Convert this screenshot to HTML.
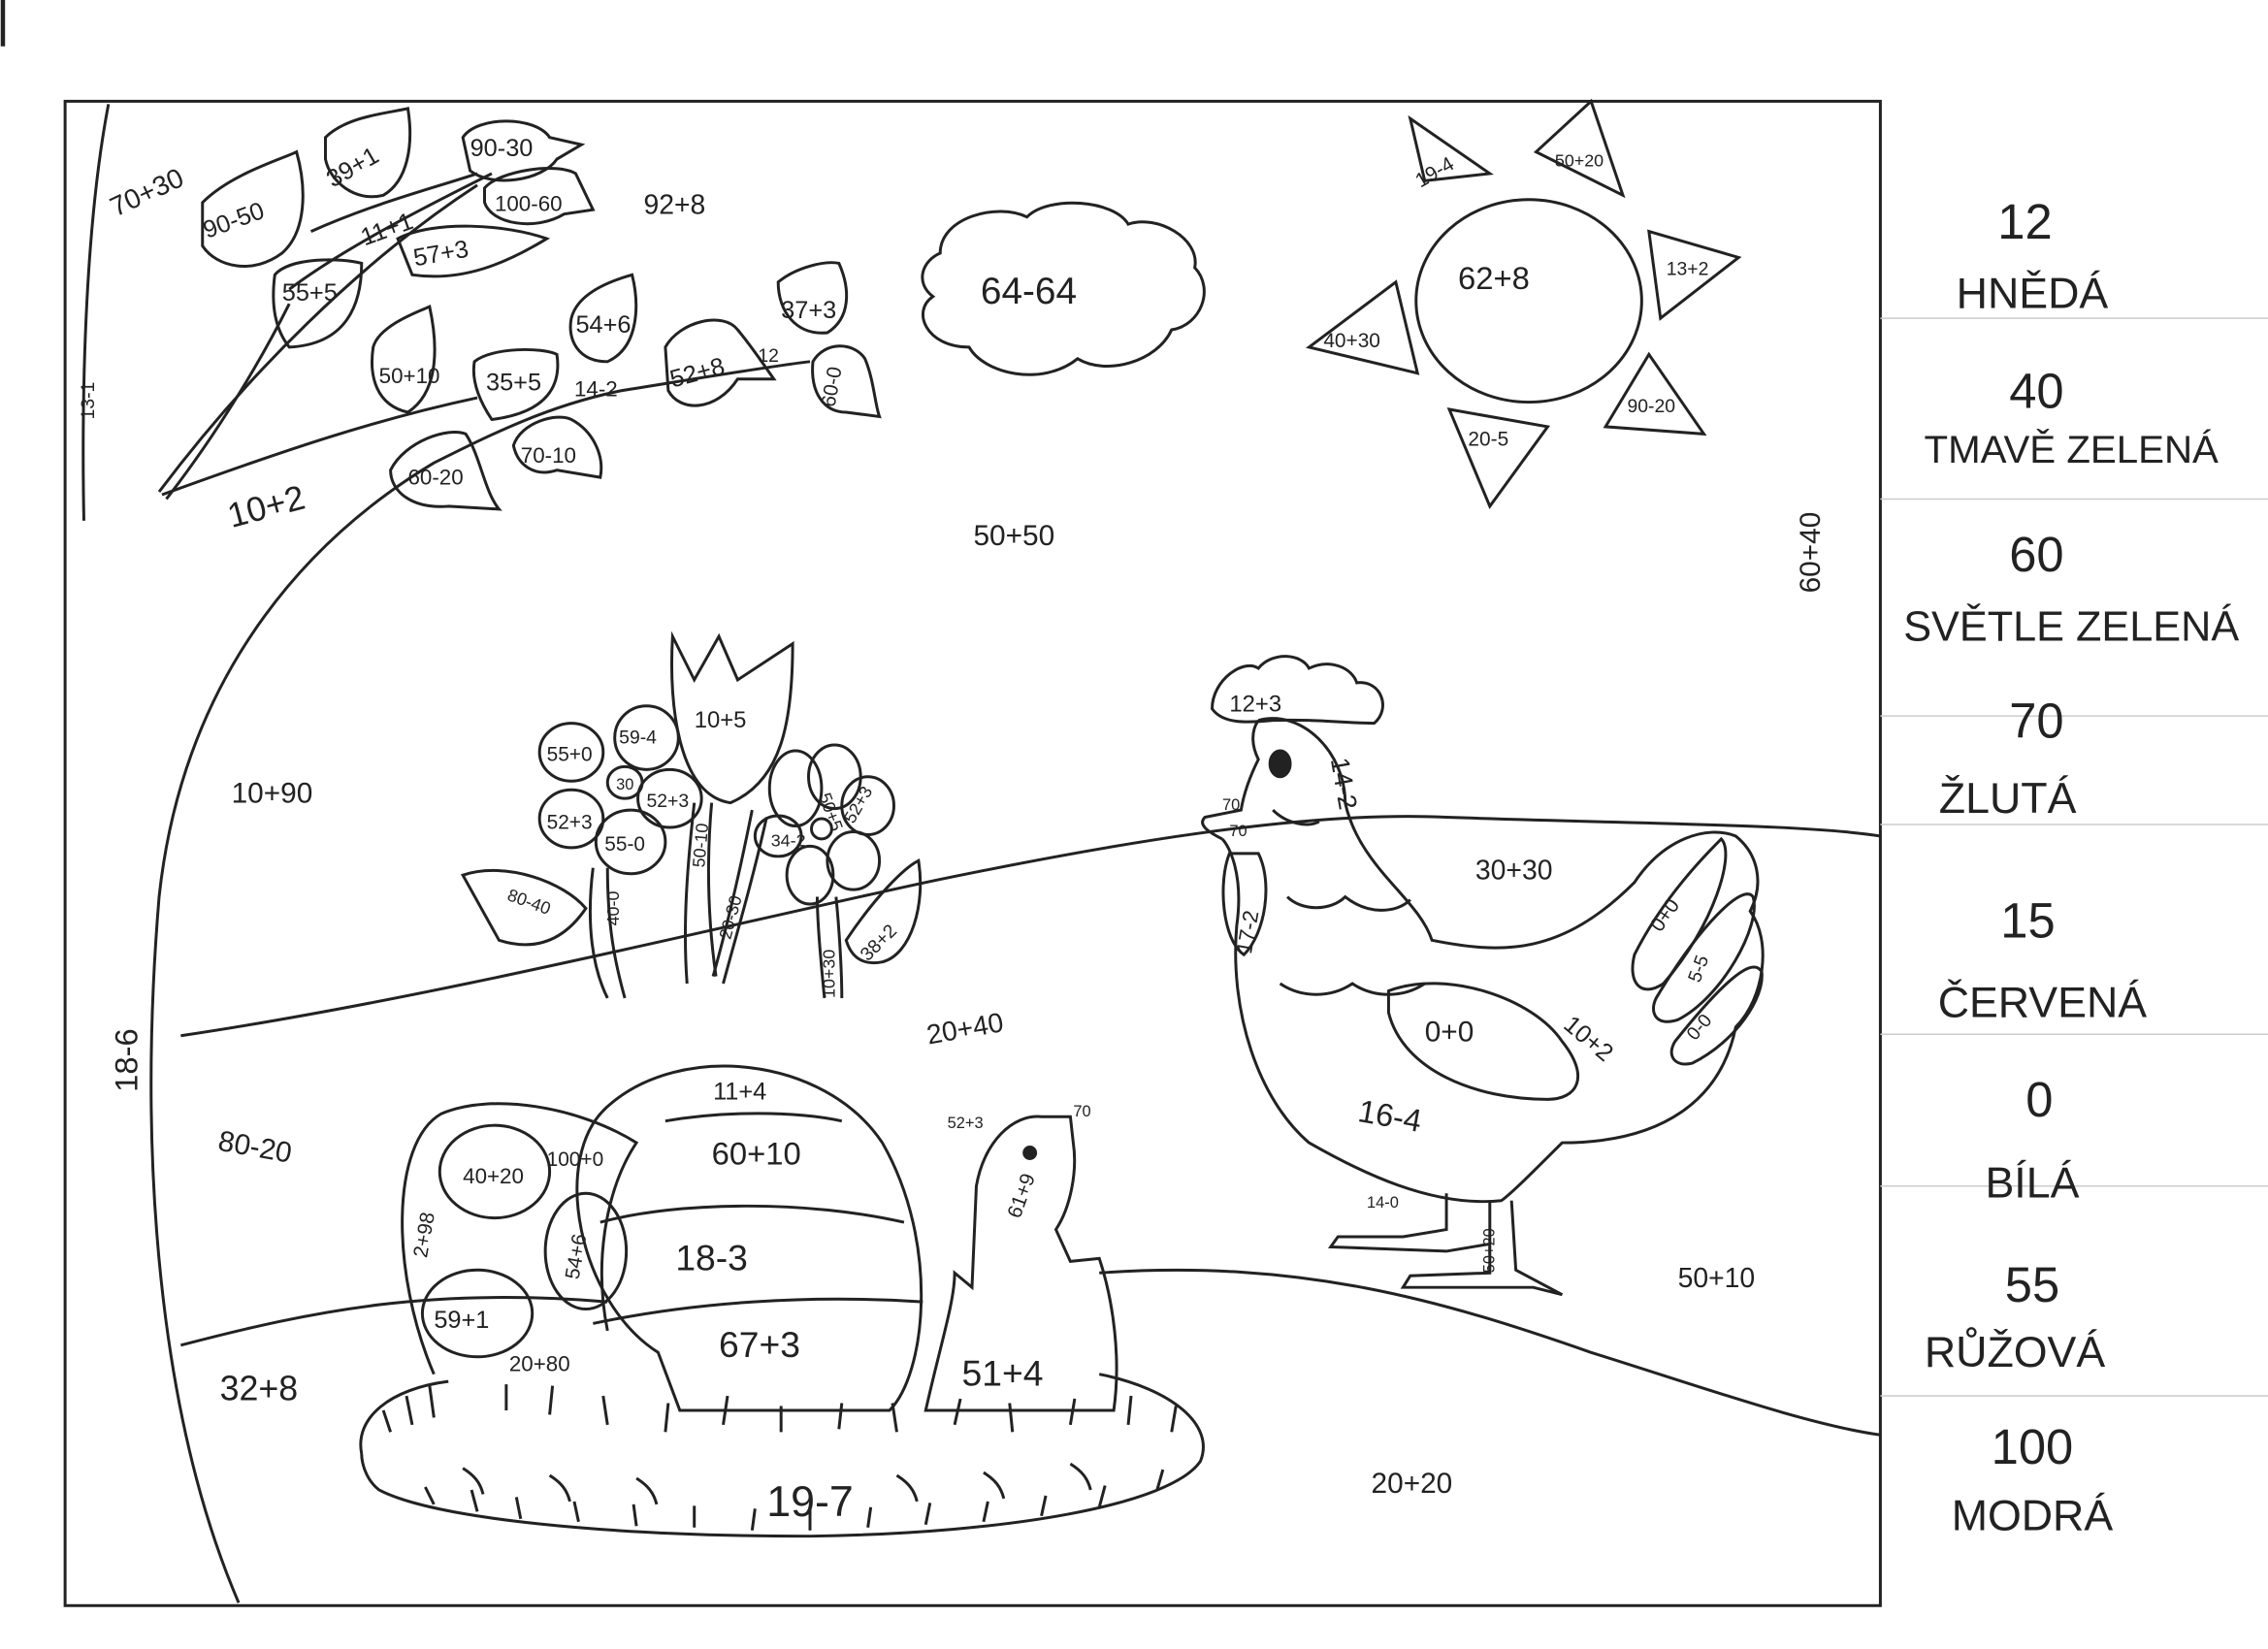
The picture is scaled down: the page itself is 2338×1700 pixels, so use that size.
<!DOCTYPE html>
<html><head><meta charset="utf-8"><style>
html,body{margin:0;padding:0;background:#fff;}
svg{display:block;}
text{font-family:"Liberation Sans",sans-serif;fill:#222;}
</style></head><body>
<svg width="2338" height="1700" viewBox="0 0 1568 1140" preserveAspectRatio="none" xmlns="http://www.w3.org/2000/svg">
<rect width="1568" height="1140" fill="#fff"/>
<line x1="2" y1="0" x2="2" y2="32" stroke="#222" stroke-width="3"/>
<g fill="none" stroke="#222" stroke-width="2">
<rect x="45" y="70" width="1255" height="1040"/>
<!-- ground -->
<path d="M125,716 C300,690 500,640 640,610 C760,585 900,560 1000,565 C1150,570 1250,570 1300,578"/>
<path d="M125,930 C220,905 300,890 420,900 M760,880 C900,870 1000,900 1100,935 C1180,960 1250,985 1300,992"/>
<!-- tree -->
<path d="M165,1108 C110,980 95,800 110,620 C125,480 200,380 300,320 C340,300 380,280 430,270 C480,262 540,252 560,250"/>
<path d="M75,72 C60,150 56,260 58,360"/>
<path d="M110,340 C170,260 250,180 330,128"/>
<path d="M115,345 C150,300 180,250 200,210"/>
<path d="M112,342 C200,310 260,290 330,275"/>
<path d="M200,200 C240,170 300,140 340,120"/>
<path d="M215,160 C260,140 300,130 330,120"/>
<!-- leaves -->
<path d="M140,140 C160,120 195,110 205,105 C212,130 212,160 195,175 C175,190 150,185 140,170 Z"/>
<path d="M225,95 C240,80 270,78 282,75 C286,100 282,125 265,135 C245,140 228,125 225,110 Z"/>
<path d="M320,95 C330,80 370,80 380,95 L402,100 L385,110 C375,125 340,130 325,118 Z"/>
<path d="M335,130 C345,118 385,112 398,120 L410,145 L390,148 C370,160 340,155 335,140 Z"/>
<path d="M275,165 C300,152 350,155 378,165 C350,182 320,195 285,190 Z"/>
<path d="M190,190 C200,178 235,178 250,182 C250,210 240,238 200,240 C188,225 188,205 190,190 Z"/>
<path d="M258,240 C262,225 290,215 297,212 C302,235 305,270 282,285 C260,280 255,260 258,240 Z"/>
<path d="M328,250 C340,240 375,240 385,245 C388,265 380,285 340,290 C330,275 326,262 328,250 Z"/>
<path d="M395,220 C400,200 430,192 437,190 C442,210 442,240 420,250 C400,250 392,235 395,220 Z"/>
<path d="M460,240 C470,222 500,215 510,228 C520,240 530,255 535,262 L510,262 C495,285 470,285 462,270 Z"/>
<path d="M355,308 C360,292 385,285 395,290 C410,298 418,315 415,330 L385,325 C370,330 358,322 355,308 Z"/>
<path d="M270,325 C280,305 310,295 322,300 C332,315 335,340 345,352 L310,350 C285,352 270,340 270,325 Z"/>
<path d="M538,195 C550,185 570,180 580,182 C588,200 588,220 572,230 C550,232 538,215 538,195 Z"/>
<path d="M562,250 C570,236 590,236 598,248 C604,262 605,280 608,288 L585,285 C570,285 560,272 562,250 Z"/>
<!-- cloud -->
<path d="M650,175 C650,150 690,140 710,150 C725,135 770,138 780,155 C800,148 830,165 826,185 C840,200 830,225 810,228 C800,250 765,260 745,248 C720,268 680,258 670,240 C640,240 630,215 645,205 C632,195 638,180 650,175 Z"/>
<!-- sun -->
<ellipse cx="1057" cy="208" rx="78" ry="70"/>
<path d="M975,82 L1030,120 L985,125 Z"/>
<path d="M1062,105 L1100,70 L1122,135 Z"/>
<path d="M1140,160 L1202,178 L1148,220 Z"/>
<path d="M1110,295 L1140,245 L1178,300 Z"/>
<path d="M1002,283 L1070,295 L1030,350 Z"/>
<path d="M905,240 L965,195 L980,258 Z"/>
<!-- flowers -->
<ellipse cx="395" cy="520" rx="22" ry="20"/><ellipse cx="447" cy="510" rx="22" ry="22"/>
<ellipse cx="432" cy="541" rx="12" ry="11"/><ellipse cx="463" cy="552" rx="22" ry="20"/>
<ellipse cx="395" cy="566" rx="22" ry="20"/><ellipse cx="436" cy="582" rx="24" ry="22"/>
<path d="M465,440 L480,470 L497,440 L510,470 L548,445 C548,500 540,540 505,555 C470,550 462,490 465,440 Z"/>
<ellipse cx="550" cy="545" rx="18" ry="26"/><ellipse cx="577" cy="537" rx="18" ry="22"/>
<ellipse cx="600" cy="557" rx="18" ry="20"/><ellipse cx="590" cy="595" rx="18" ry="20"/>
<ellipse cx="560" cy="605" rx="16" ry="20"/><ellipse cx="538" cy="578" rx="16" ry="14"/>
<circle cx="568" cy="573" r="7"/>
<path d="M410,600 C405,640 410,670 420,690 M420,600 C420,640 425,665 432,690"/>
<path d="M480,555 C475,600 472,640 475,680 M492,555 C488,600 490,640 495,675"/>
<path d="M520,560 C510,610 500,650 493,675 M530,565 C520,610 508,650 500,680"/>
<path d="M565,620 C565,640 568,670 570,690 M578,620 C580,640 582,670 582,690"/>
<path d="M320,605 C350,595 390,610 405,628 C390,650 370,658 345,650 Z"/>
<path d="M585,650 C605,620 625,600 635,595 C640,625 630,660 610,665 C595,668 588,660 585,650 Z"/>
<!-- hen -->
<path d="M838,490 C838,470 860,455 870,462 C880,450 900,452 905,462 C920,455 935,462 938,472 C955,470 962,490 950,500 C930,500 910,497 880,498 C860,500 845,500 838,490 Z"/>
<path d="M870,498 C900,490 930,520 930,555 C940,600 980,620 990,650 C1040,660 1080,660 1130,610 C1150,580 1180,570 1200,578 C1215,590 1220,610 1210,630 C1225,650 1220,690 1200,710 C1190,760 1150,790 1080,790 C1060,810 1045,825 1038,830 C990,835 940,810 905,790 C870,760 850,700 855,640 C860,605 850,585 845,580"/>
<path d="M845,580 C835,575 828,570 833,565 L858,560 C860,548 865,535 870,525 C865,515 865,505 870,498"/>
<path d="M850,590 C842,610 845,650 860,660 C875,645 880,610 870,590 Z"/>
<path d="M960,685 C1000,670 1060,690 1080,720 C1100,745 1090,760 1070,760 C1020,760 970,740 960,700 Z"/>
<path d="M1130,660 C1150,620 1180,590 1190,580 C1200,590 1185,640 1150,680 C1135,690 1125,680 1130,660 Z"/>
<path d="M1145,690 C1175,640 1205,610 1212,620 C1218,640 1190,690 1160,705 C1145,710 1140,700 1145,690 Z"/>
<path d="M1158,720 C1190,680 1212,660 1218,672 C1220,690 1200,720 1170,735 C1158,738 1152,730 1158,720 Z"/>
<path d="M890,620 C900,630 920,630 930,620 C945,632 965,632 975,622 M885,680 C900,690 920,690 935,680 C950,690 970,690 985,680"/>
<path d="M1000,825 L1000,850 L970,855 L925,855 L920,862 L1000,865 L1030,860 L1030,830 M1030,830 L1030,880 L975,882 L970,890 L1060,890 L1080,895 L1048,878 L1045,830"/>
<ellipse cx="885" cy="528" rx="7" ry="9" fill="#222"/>
<path d="M880,560 C890,570 905,572 912,568"/>
<!-- eggs -->
<path d="M455,935 C400,900 380,800 420,765 C470,720 570,730 610,790 C650,860 640,950 615,975 L470,975 Z"/>
<path d="M460,775 C500,768 550,768 582,775 M415,845 C470,830 560,830 625,845 M410,915 C480,900 560,895 638,900"/>
<path d="M300,950 C270,880 270,790 305,770 C340,755 400,765 440,790 C420,820 410,870 420,920"/>
<ellipse cx="342" cy="810" rx="38" ry="32"/>
<ellipse cx="405" cy="865" rx="28" ry="40"/>
<ellipse cx="330" cy="908" rx="38" ry="30"/>
<!-- chick -->
<path d="M675,820 C680,790 700,770 720,772 L740,772 L742,790 C745,810 740,835 730,850 L740,872 L760,870 C770,900 775,940 770,975 L640,975 C650,930 660,900 660,880 L672,890 Z"/>
<circle cx="712" cy="797" r="4" fill="#222"/>
<!-- nest -->
<path d="M250,1005 C245,980 270,960 310,955 M760,950 C810,960 840,985 830,1010 C810,1040 700,1060 560,1062 C420,1062 300,1050 262,1030 C252,1022 250,1010 250,1005"/>
<path d="M270,990 l-5,-15 M285,985 l-4,-20 M300,980 l-3,-22 M350,975 l0,-18 M380,978 l2,-20 M420,985 l-3,-20 M460,990 l2,-20 M500,985 l3,-20 M540,990 l0,-18 M580,988 l2,-18 M620,990 l-3,-20 M660,985 l4,-18 M700,990 l-2,-20 M740,985 l3,-18 M780,985 l2,-20 M810,990 l3,-18"/>
<path d="M300,1040 l-6,-12 M330,1045 l-4,-15 M360,1050 l-3,-15 M400,1052 l-3,-14 M440,1055 l-2,-15 M480,1056 l0,-15 M520,1058 l2,-15 M560,1058 l0,-15 M600,1056 l2,-14 M640,1054 l3,-15 M680,1052 l3,-14 M720,1048 l3,-14 M760,1042 l4,-15 M800,1030 l4,-14"/>
<path d="M320,1015 c8,5 12,10 14,18 M380,1020 c8,5 12,10 14,18 M440,1022 c8,5 12,10 14,18 M620,1020 c8,5 12,10 14,18 M680,1018 c8,5 12,10 14,18 M740,1012 c8,5 12,10 14,18"/>
<!-- legend separators -->
<g stroke="#ccc" stroke-width="1"><path d="M1300,220 H1568 M1300,345 H1568 M1300,495 H1568 M1300,570 H1568 M1300,715 H1568 M1300,820 H1568 M1300,965 H1568"/></g>
</g>
<g font-size="17">
<text x="80" y="150" transform="rotate(-25 80 150)" font-size="19">70+30</text>
<text x="143" y="165" transform="rotate(-20 143 165)">90-50</text>
<text x="230" y="130" transform="rotate(-30 230 130)">39+1</text>
<text x="325" y="108">90-30</text>
<text x="342" y="146" font-size="15">100-60</text>
<text x="252" y="170" transform="rotate(-20 252 170)">11+1</text>
<text x="287" y="184" transform="rotate(-10 287 184)">57+3</text>
<text x="195" y="208">55+5</text>
<text x="445" y="148" font-size="19">92+8</text>
<text x="262" y="265" font-size="15">50+10</text>
<text x="336" y="270">35+5</text>
<text x="398" y="230">54+6</text>
<text x="397" y="274" font-size="15">14-2</text>
<text x="465" y="268" transform="rotate(-15 465 268)">52+8</text>
<text x="524" y="250" font-size="13">12</text>
<text x="540" y="220">37+3</text>
<text x="577" y="282" transform="rotate(-80 577 282)" font-size="14">60-0</text>
<text x="360" y="320" font-size="15">70-10</text>
<text x="282" y="335" font-size="15">60-20</text>
<text x="65" y="290" transform="rotate(-90 65 290)" font-size="13">13-1</text>
<text x="160" y="365" transform="rotate(-15 160 365)" font-size="24">10+2</text>
<text x="678" y="210" font-size="26">64-64</text>
<text x="1008" y="200" font-size="22">62+8</text>
<text x="982" y="130" transform="rotate(-30 982 130)" font-size="14">19-4</text>
<text x="1075" y="115" font-size="12">50+20</text>
<text x="1152" y="190" font-size="13">13+2</text>
<text x="915" y="240" font-size="14">40+30</text>
<text x="1125" y="285" font-size="13">90-20</text>
<text x="1015" y="308" font-size="14">20-5</text>
<text x="673" y="377" font-size="20">50+50</text>
<text x="1258" y="410" transform="rotate(-90 1258 410)" font-size="20">60+40</text>
<text x="160" y="555" font-size="20">10+90</text>
<text x="378" y="526" font-size="14">55+0</text>
<text x="428" y="514" font-size="13">59-4</text>
<text x="426" y="546" font-size="11">30</text>
<text x="447" y="558" font-size="13">52+3</text>
<text x="378" y="573" font-size="14">52+3</text>
<text x="418" y="588" font-size="14">55-0</text>
<text x="480" y="503" font-size="16">10+5</text>
<text x="350" y="622" transform="rotate(20 350 622)" font-size="12">80-40</text>
<text x="428" y="640" transform="rotate(-90 428 640)" font-size="12">40-0</text>
<text x="487" y="600" transform="rotate(-85 487 600)" font-size="12">50-10</text>
<text x="505" y="650" transform="rotate(-75 505 650)" font-size="12">20-30</text>
<text x="577" y="690" transform="rotate(-90 577 690)" font-size="12">10+30</text>
<text x="533" y="585" font-size="12">34-2</text>
<text x="600" y="665" transform="rotate(-45 600 665)" font-size="13">38+2</text>
<text x="566" y="550" transform="rotate(70 566 550)" font-size="12">50+5</text>
<text x="590" y="570" transform="rotate(-60 590 570)" font-size="12">52+3</text>
<text x="642" y="722" transform="rotate(-10 642 722)" font-size="19">20+40</text>
<text x="850" y="492" font-size="16">12+3</text>
<text x="920" y="525" transform="rotate(80 920 525)" font-size="18">14-2</text>
<text x="845" y="560" font-size="11">70</text>
<text x="850" y="578" font-size="11">70</text>
<text x="865" y="660" transform="rotate(-80 865 660)" font-size="15">17-2</text>
<text x="1020" y="608" font-size="19">30+30</text>
<text x="985" y="720" font-size="20">0+0</text>
<text x="1080" y="710" transform="rotate(40 1080 710)" font-size="17">10+2</text>
<text x="1148" y="645" transform="rotate(-55 1148 645)" font-size="14">0+0</text>
<text x="1175" y="680" transform="rotate(-70 1175 680)" font-size="13">5-5</text>
<text x="1172" y="720" transform="rotate(-50 1172 720)" font-size="13">0-0</text>
<text x="938" y="775" transform="rotate(10 938 775)" font-size="22">16-4</text>
<text x="945" y="835" font-size="11">14-0</text>
<text x="1033" y="880" transform="rotate(-90 1033 880)" font-size="11">50+20</text>
<text x="1160" y="890" font-size="19">50+10</text>
<text x="150" y="795" transform="rotate(10 150 795)" font-size="20">80-20</text>
<text x="95" y="755" transform="rotate(-90 95 755)" font-size="22">18-6</text>
<text x="152" y="968" font-size="24">32+8</text>
<text x="320" y="818" font-size="15">40+20</text>
<text x="378" y="806" font-size="14">100+0</text>
<text x="295" y="870" transform="rotate(-80 295 870)" font-size="14">2+98</text>
<text x="300" y="918" font-size="17">59+1</text>
<text x="400" y="885" transform="rotate(-80 400 885)" font-size="14">54+6</text>
<text x="352" y="948" font-size="15">20+80</text>
<text x="493" y="760" font-size="17">11+4</text>
<text x="492" y="805" font-size="22">60+10</text>
<text x="467" y="878" font-size="25">18-3</text>
<text x="497" y="938" font-size="25">67+3</text>
<text x="655" y="780" font-size="11">52+3</text>
<text x="742" y="772" font-size="11">70</text>
<text x="705" y="843" transform="rotate(-70 705 843)" font-size="14">61+9</text>
<text x="665" y="958" font-size="25">51+4</text>
<text x="530" y="1048" font-size="30">19-7</text>
<text x="948" y="1032" font-size="20">20+20</text>
</g>
<g font-size="34" text-anchor="middle">
<text x="1400" y="165">12</text>
<text x="1405" y="213" font-size="30">HNĚDÁ</text>
<text x="1408" y="282">40</text>
<text x="1432" y="320" font-size="27">TMAVĚ ZELENÁ</text>
<text x="1408" y="395">60</text>
<text x="1432" y="443" font-size="29">SVĚTLE ZELENÁ</text>
<text x="1408" y="510">70</text>
<text x="1388" y="562" font-size="30">ŽLUTÁ</text>
<text x="1402" y="648">15</text>
<text x="1412" y="703" font-size="30">ČERVENÁ</text>
<text x="1410" y="772">0</text>
<text x="1405" y="828" font-size="30">BÍLÁ</text>
<text x="1405" y="900">55</text>
<text x="1393" y="945" font-size="30">RŮŽOVÁ</text>
<text x="1405" y="1012">100</text>
<text x="1405" y="1058" font-size="30">MODRÁ</text>
</g>
</svg>
</body></html>
